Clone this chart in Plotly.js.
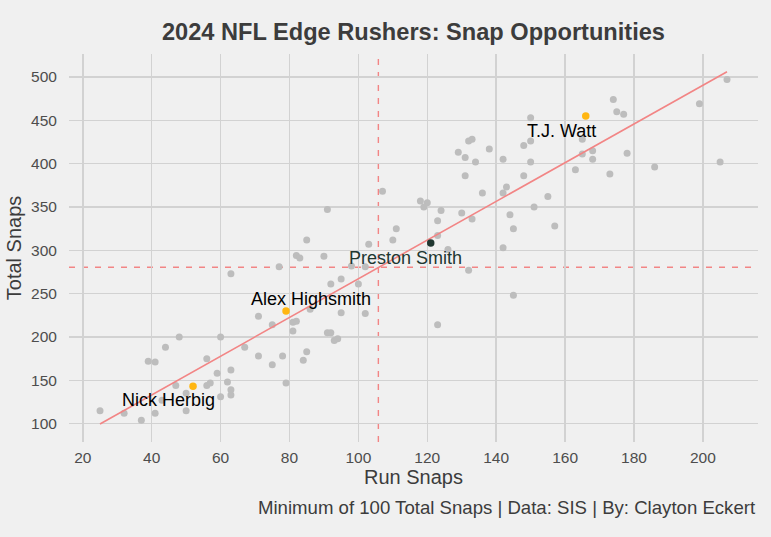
<!DOCTYPE html>
<html>
<head>
<meta charset="utf-8">
<script src="https://cdn.plot.ly/plotly-3.0.1.min.js"></script>
<style>html,body{margin:0;padding:0;background:#f0f0f0;}#chart{width:771px;height:537px;}</style>
</head>
<body>
<div id="chart"></div>
<script>
// Other edge rushers (run snaps, total snaps)
const otherRun = [25,32,37,41,39,41,44,48,47,43,50,50,56,56,57,59,60,60,62,63,63,63,63,67,71,71,75,75,78,77,81,82,81,85,84,85,82,83,90,92,95,86,95,100,102,91,92,93,94,103,110,111,102,98,79,123,132,126,142,91,107,118,120,119,124,123,123,130,133,129,131,132,133,138,134,131,136,142,143,142,150,148,150,150,148,155,151,144,145,157,165,165,168,168,163,173,174,175,177,178,186,199,205,207,145];
const otherTotal = [115,112,104,112,172,171,188,200,144,127,115,135,175,144,147,158,200,131,148,162,139,133,273,188,224,178,214,168,178,281,217,218,207,183,173,312,294,291,293,261,267,232,228,261,227,205,205,196,198,307,312,325,281,282,147,214,277,301,303,347,368,357,355,350,346,334,317,343,336,413,407,426,428,417,402,386,366,405,373,366,453,421,426,402,386,362,350,341,325,328,428,411,415,405,393,388,474,460,457,412,396,469,402,497,248];

// Highlighted players
const steelersNames = ["T.J. Watt", "Alex Highsmith", "Nick Herbig"];
const steelersRun = [166, 79, 52];
const steelersTotal = [455, 230, 143];
const prestonName = ["Preston Smith"];
const prestonRun = [121];
const prestonTotal = [308.5];

// Averages and linear fit endpoints
const meanRun = 105.8;
const meanTotal = 280.4;
const fitRun = [25, 207];
const fitTotal = [99.6, 506.1];

const xTicks = [20,40,60,80,100,120,140,160,180,200];
const yTicks = [100,150,200,250,300,350,400,450,500];

const FONT = "Liberation Sans, Arial, Helvetica, sans-serif";

const traces = [
  {x: otherRun, y: otherTotal, type: 'scatter', mode: 'markers',
   marker: {color: '#bdbdbd', size: 7}, hoverinfo: 'skip'},
  {x: fitRun, y: fitTotal, type: 'scatter', mode: 'lines',
   line: {color: '#f28585', width: 1.6}, hoverinfo: 'skip'},
  {x: steelersRun, y: steelersTotal, type: 'scatter', mode: 'markers',
   marker: {color: '#FFB612', size: 7.5}, hoverinfo: 'skip'},
  {x: prestonRun, y: prestonTotal, type: 'scatter', mode: 'markers',
   marker: {color: '#203731', size: 7.5}, hoverinfo: 'skip'}
];

const labelShift = {"T.J. Watt": [-24, -15], "Alex Highsmith": [25, 12], "Nick Herbig": [-25, -14]};
const annotations = [];
steelersNames.forEach((n, i) => {
  annotations.push({x: steelersRun[i], y: steelersTotal[i], text: n, showarrow: false,
    xshift: labelShift[n][0], yshift: labelShift[n][1],
    font: {family: FONT, size: 18, color: '#000000'}});
});
annotations.push({x: prestonRun[0], y: prestonTotal[0], text: prestonName[0], showarrow: false,
  xshift: -25, yshift: -15, font: {family: FONT, size: 18, color: '#203731'}});
annotations.push({xref: 'paper', yref: 'paper', x: 1.0, y: -0.168, xanchor: 'right', yanchor: 'middle',
  text: 'Minimum of 100 Total Snaps | Data: SIS | By: Clayton Eckert', showarrow: false,
  font: {family: FONT, size: 18.6, color: '#3c3c3c'}});

const layout = {
  width: 771, height: 537,
  paper_bgcolor: '#f0f0f0', plot_bgcolor: '#f0f0f0',
  margin: {l: 69, r: 13, t: 54, b: 95, pad: 0},
  showlegend: false,
  font: {family: FONT, color: '#3c3c3c'},
  title: {text: '<b>2024 NFL Edge Rushers: Snap Opportunities</b>', x: 0.5, xref: 'paper',
    y: 1 - 31.7/537, yref: 'container', yanchor: 'middle',
    font: {family: FONT, size: 23.6, color: '#3c3c3c'}},
  xaxis: {range: [16, 216], tickvals: xTicks, ticktext: xTicks.map(String),
    showgrid: true, gridcolor: '#d2d2d2', gridwidth: 1.5, zeroline: false, showline: false,
    ticks: 'outside', ticklen: 1, tickcolor: 'rgba(0,0,0,0)',
    tickfont: {family: FONT, size: 15.5, color: '#4d4d4d'},
    title: {text: 'Run Snaps', font: {family: FONT, size: 20, color: '#3c3c3c'}, standoff: 5}},
  yaxis: {range: [78.8, 526.5], tickvals: yTicks, ticktext: yTicks.map(String),
    showgrid: true, gridcolor: '#d2d2d2', gridwidth: 1.5, zeroline: false, showline: false,
    ticks: 'outside', ticklen: 8, tickcolor: 'rgba(0,0,0,0)',
    tickfont: {family: FONT, size: 15.5, color: '#4d4d4d'},
    title: {text: 'Total Snaps', font: {family: FONT, size: 20, color: '#3c3c3c'}, standoff: 4}},
  shapes: [
    {type: 'line', layer: 'below', xref: 'x', yref: 'paper', x0: meanRun, x1: meanRun, y0: 0, y1: 1,
     line: {color: '#f28585', width: 1.4, dash: '6px,7px'}},
    {type: 'line', layer: 'below', xref: 'paper', yref: 'y', x0: 0, x1: 1, y0: meanTotal, y1: meanTotal,
     line: {color: '#f28585', width: 1.4, dash: '6px,7px'}}
  ],
  annotations: annotations
};

Plotly.newPlot('chart', traces, layout, {staticPlot: true, displayModeBar: false});
</script>
</body>
</html>
